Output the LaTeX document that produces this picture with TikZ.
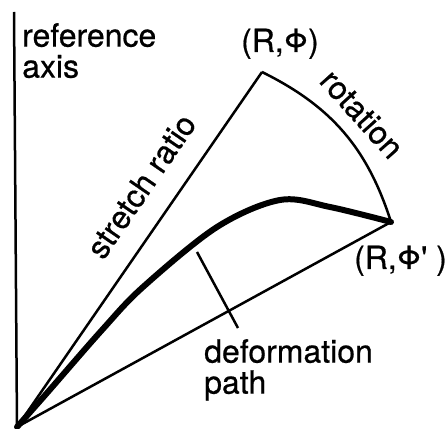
\documentclass[tikz,border=0pt]{standalone}
\usepackage{fontspec}
\setmainfont{TeX Gyre Heros}
\newfontfamily\figfont{TeX Gyre Heros}[FakeBold=0.6]
\begin{document}
\begin{tikzpicture}[x=1pt,y=1pt,
  thinline/.style={line width=2.5pt},
  thickpath/.style={line width=6pt, line cap=round, line join=round},
  lbl/.style={font=\figfont\fontsize{32}{31}\selectfont, inner sep=0pt}]
\useasboundingbox (0,0) rectangle (448,429);
% points
\coordinate (O) at (17,2);
\coordinate (top) at (14,417);
\coordinate (A) at (262,357);
\coordinate (B) at (391,207);
\coordinate (l1) at (197,177);
\coordinate (l2) at (238,101);
% axis and lines
\draw[thinline] (top) -- (O);
\draw[thinline] (O) -- (A);
\draw[thinline] (O) -- (B);
\draw[thinline] (A) to[bend left=23] (B);
% deformation path
\draw[thickpath] plot[smooth, tension=0.55] coordinates
  {(17,2) (47,36) (102,99) (143,142) (217,202) (280,229) (330,222) (391,207)};
% leader
\draw[thinline] (l1) -- (l2);
% labels
\node[lbl, anchor=north west, align=left] (ref) at (22,406) {reference\\axis};
\node[lbl, anchor=base] (rp) at (280,377) {(R,Φ)};
\node[lbl, anchor=base west] (rpp) at (354,160) {(R,Φ\textquotesingle\ )};
\node[lbl, rotate=55.5] (sr) at (141,243) {stretch ratio};
\node[lbl, rotate=-48] (rot) at (362,315) {rotation};
\node[lbl, anchor=north west, align=left] (dp) at (204,90) {deformation\\path};
\end{tikzpicture}
\end{document}
